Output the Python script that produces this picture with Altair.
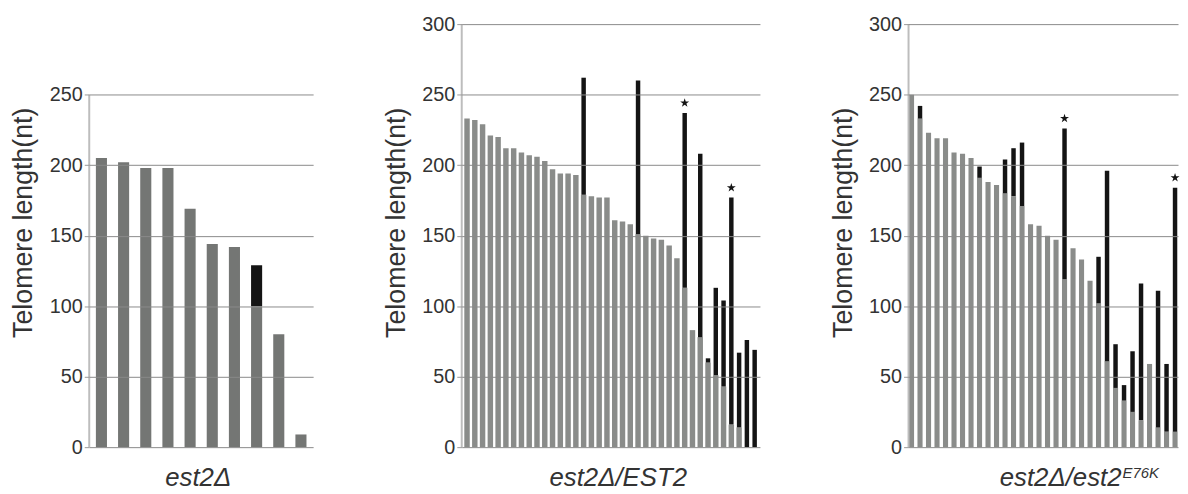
import altair as alt
import pandas as pd

FONT = "Liberation Sans"
Y_TITLE = "Telomere length(nt)"
TICKS_1 = [0, 50, 100, 150, 200, 250]
TICKS_23 = [0, 50, 100, 150, 200, 250, 300]

# ---- panel 1 : est2Δ ----
p1_gray = [205, 202, 198, 198, 169, 144, 142, 100, 80, 9]
p1_top = [205, 202, 198, 198, 169, 144, 142, 129, 80, 9]
p1_stars = []
p1_label = "est2Δ"

# ---- panel 2 : est2Δ/EST2 ----
p2_gray = [233, 232, 229, 221, 220, 212, 212, 209, 207, 206, 203, 197, 194, 194, 193,
           179, 178, 177, 177, 161, 160, 158, 151, 150, 148, 147, 143, 134, 113, 83,
           78, 60, 51, 43, 16, 14, 0, 0]
p2_top = [233, 232, 229, 221, 220, 212, 212, 209, 207, 206, 203, 197, 194, 194, 193,
          262, 178, 177, 177, 161, 160, 158, 260, 150, 148, 147, 143, 134, 237, 83,
          208, 63, 113, 104, 177, 67, 76, 69]
p2_stars = [29, 35]
p2_label = "est2Δ/EST2"

# ---- panel 3 : est2Δ/est2 E76K ----
p3_gray = [250, 233, 223, 219, 219, 209, 208, 205, 191, 188, 186, 180, 178, 171, 158, 157,
           150, 147, 119, 141, 133, 118, 102, 61, 42, 33, 25, 19, 59, 14, 11, 11]
p3_top = [250, 242, 223, 219, 219, 209, 208, 205, 199, 188, 186, 204, 212, 216, 158, 157,
          150, 147, 226, 141, 133, 118, 135, 196, 73, 44, 68, 116, 59, 111, 59, 184]
p3_stars = [19, 32]
p3_label = "est2Δ/est2"
p3_sup = "E76K"

BLACK = "#141414"
STAR = ("M0,-1L0.2245,-0.309L0.9511,-0.309L0.3633,0.118L0.5878,0.809L0,0.382"
        "L-0.5878,0.809L-0.3633,0.118L-0.9511,-0.309L-0.2245,-0.309Z")

yscale = alt.Scale(domain=[0, 300], nice=False, zero=True)


def make_axis(ticks):
    return alt.Axis(values=ticks, title=Y_TITLE, grid=True, domain=False, ticks=True,
                    tickSize=5, tickColor="#999999", tickWidth=1, format="d",
                    labelFontSize=20, labelFont=FONT, labelColor="#333333", labelPadding=2,
                    labelFlush=False,
                    titleFontSize=27, titleFont=FONT, titleFontWeight="normal",
                    titleColor="#333333", titlePadding=11.6, titleY=200,
                    gridColor="#8a8a8a", gridWidth=1, zindex=1)


def panel(gray, top, stars, ticks, width, gray_color, black_size, pin, pout, texts):
    n = len(gray)
    df = pd.DataFrame({"i": list(range(1, n + 1)), "gray": gray, "top": top,
                       "star": [1 if (k + 1) in stars else 0 for k in range(n)]})
    ax = make_axis(ticks)
    xs = alt.X("i:O", axis=None, scale=alt.Scale(paddingInner=pin, paddingOuter=pout))
    base = alt.Chart(df)
    g = base.mark_bar(color=gray_color).encode(
        x=xs, y=alt.Y("gray:Q", scale=yscale, axis=ax))
    bkw = {"color": BLACK}
    if black_size:
        bkw["size"] = black_size
    b = base.transform_filter("datum.top > datum.gray").mark_bar(**bkw).encode(
        x=xs, y=alt.Y("gray:Q", scale=yscale, axis=ax), y2="top:Q")
    s = base.transform_filter("datum.star == 1").mark_point(
        shape=STAR, filled=True, size=90, color=BLACK, opacity=1, yOffset=-10).encode(
        x=xs, y=alt.Y("top:Q", scale=yscale, axis=ax))
    rule_df = pd.DataFrame({"y0": [0], "y1": [ticks[-1]]})
    r = alt.Chart(rule_df).mark_rule(color="#bdbdbd", strokeWidth=2).encode(
        x=alt.value(0), y=alt.Y("y0:Q", scale=yscale, axis=ax), y2="y1:Q")
    layers = [g, b, s, r]
    for (txt, px, py, size, align) in texts:
        layers.append(
            alt.Chart(pd.DataFrame({"t": [txt]})).mark_text(
                font=FONT, fontSize=size, fontStyle="italic", align=align,
                baseline="alphabetic", color="#333333").encode(
                x=alt.value(px), y=alt.value(py), text="t:N"))
    return alt.layer(*layers).properties(width=width, height=427)


c1 = panel(p1_gray, p1_top, p1_stars, TICKS_1, 226, "#747674", None, 0.5, 0.3,
           [(p1_label, 110, 466, 26, "center")])
c2 = panel(p2_gray, p2_top, p2_stars, TICKS_23, 301, "#8a8c8a", 4.5, 0.3, 0.33,
           [(p2_label, 158, 466, 26, "center")])
c3 = panel(p3_gray, p3_top, p3_stars, TICKS_23, 272, "#8a8c8a", 4.5, 0.4, 0.05,
           [(p3_label, 215, 466, 26, "right"), (p3_sup, 216, 458, 15, "left")])

chart = alt.hconcat(c1, c2, c3, spacing=150, bounds="flush").configure_view(
    stroke=None).properties(padding={"left": 2, "top": 4, "right": 0, "bottom": 0},
                            background="white")

chart.save("out.html", embed_options={"renderer": "svg", "actions": False})
